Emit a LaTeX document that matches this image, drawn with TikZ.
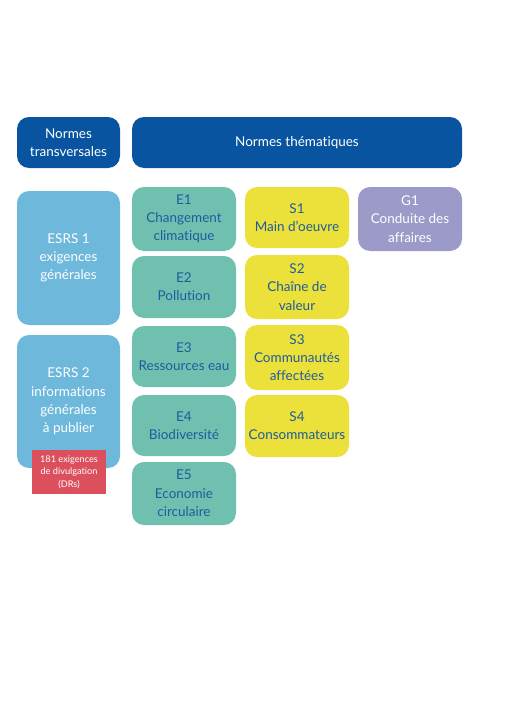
\documentclass[tikz,border=0pt]{standalone}
\usepackage{fontspec}
\setmainfont{Lato}[Ligatures=NoCommon]

\definecolor{navy}{RGB}{8,84,160}
\definecolor{sky}{RGB}{110,184,220}
\definecolor{sage}{RGB}{112,192,176}
\definecolor{lemon}{RGB}{236,224,58}
\definecolor{lilac}{RGB}{156,154,200}
\definecolor{coral}{RGB}{220,80,94}
\definecolor{ink}{RGB}{30,92,158}

\begin{document}
\begin{tikzpicture}[x=1pt, y=-1pt,
	tile/.style={rounded corners=12pt, inner sep=0pt, align=center, font=\fontsize{13.5}{18.3}\selectfont},
	head/.style={tile, fill=navy, text=white, minimum height=51pt},
	esrs/.style={tile, fill=sky, text=white, minimum width=103pt},
	env/.style={tile, fill=sage, text=ink, minimum width=104pt},
	soc/.style={tile, fill=lemon, text=ink, minimum width=104pt},
	gov/.style={tile, fill=lilac, text=white, minimum width=104pt}]

	\useasboundingbox (0,0) rectangle (520,720);

	% en-tetes
	\node[head, minimum width=103pt] (trans) at (68.5,142.5) {Normes\\transversales};
	\node[head, minimum width=330pt] (them) at (297,142.5) {Normes thématiques};

	% normes transversales
	\node[esrs, minimum height=134pt] (esrs1) at (68.5,258) {ESRS 1\\exigences\\générales};
	\node[esrs, minimum height=133pt] (esrs2) at (68.5,401.5) {ESRS 2\\informations\\générales\\à publier};
	\node[fill=coral, text=white, inner sep=0pt, minimum width=74pt, minimum height=44pt, align=center,
		font=\fontsize{9.2}{12.5}\selectfont] (drs) at (69,472) {181 exigences\\de divulgation\\(DRs)};

	% environnement
	\node[env, minimum height=64pt] (E1) at (184,219) {E1\\Changement\\climatique};
	\node[env, minimum height=62pt] (E2) at (184,287) {E2\\Pollution};
	\node[env, minimum height=61pt] (E3) at (184,356.5) {E3\\Ressources eau};
	\node[env, minimum height=61pt] (E4) at (184,425.5) {E4\\Biodiversité};
	\node[env, minimum height=63pt] (E5) at (184,493.5) {E5\\Economie\\circulaire};

	% social
	\node[soc, minimum height=61pt] (S1) at (297,217.5) {S1\\Main d'oeuvre};
	\node[soc, minimum height=64pt] (S2) at (297,287) {S2\\Chaîne de\\valeur};
	\node[soc, minimum height=65pt] (S3) at (297,357.5) {S3\\Communautés\\affectées};
	\node[soc, minimum height=62pt] (S4) at (297,426) {S4\\Consommateurs};

	% gouvernance
	\node[gov, minimum height=64pt] (G1) at (410,219) {G1\\Conduite des\\affaires};

\end{tikzpicture}
\end{document}
